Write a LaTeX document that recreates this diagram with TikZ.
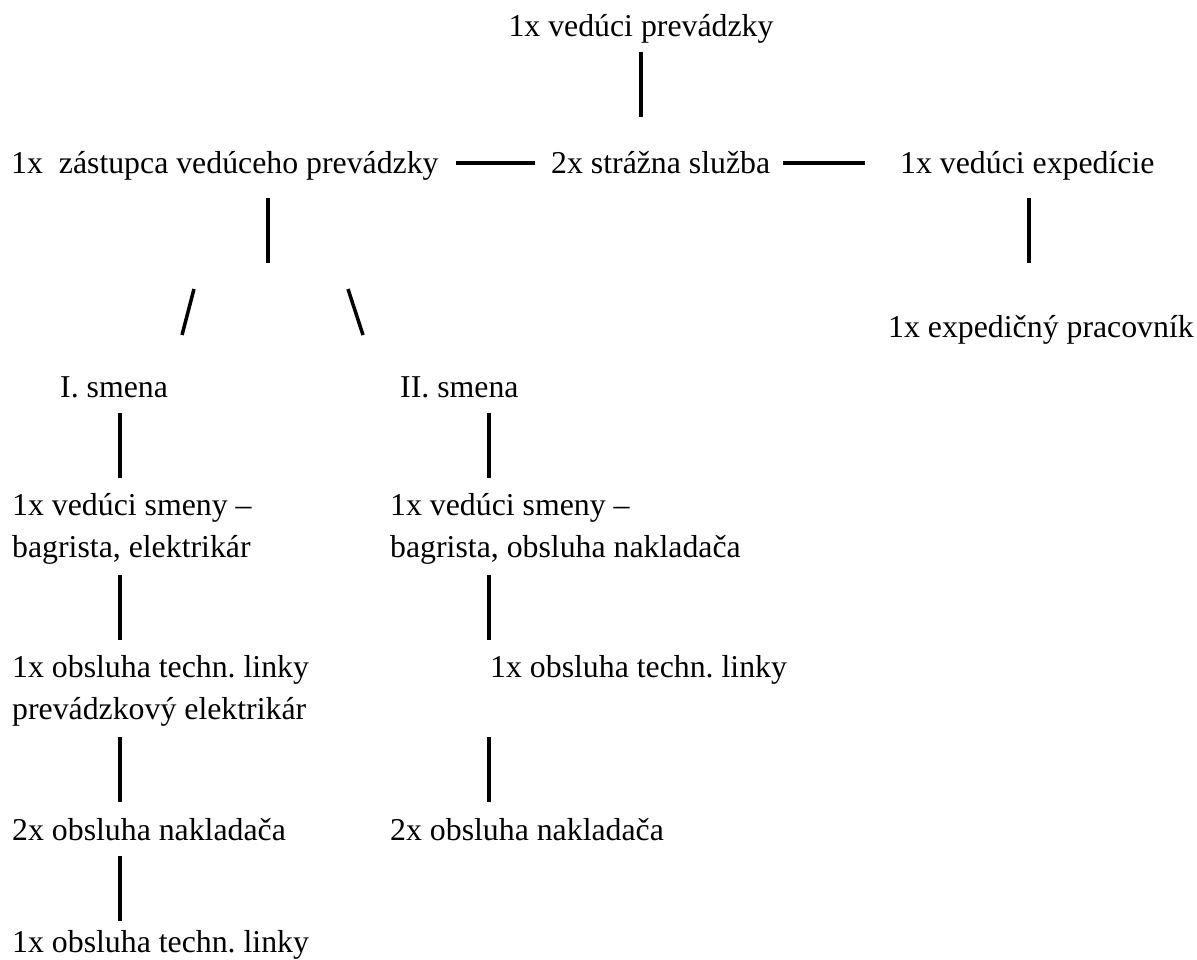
\documentclass[tikz,border=0pt]{standalone}
\usepackage{fontspec}
\setmainfont{Liberation Serif}
\frenchspacing
\begin{document}
\begin{tikzpicture}[x=1pt,y=-1pt,
  lbl/.style={inner sep=0pt,anchor=base west,font=\fontsize{31.8}{42}\selectfont},
  conn/.style={line width=4.5pt,line cap=butt}]
\useasboundingbox (0,0) rectangle (1197,959);
% texts
\node[lbl,anchor=base] (vp) at (641,36) {1x vedúci prevádzky};
\node[lbl] (zvp) at (11,173) {1x~ zástupca vedúceho prevádzky};
\node[lbl] (ss) at (551,173) {2x strážna služba};
\node[lbl] (ve) at (900,173) {1x vedúci expedície};
\node[lbl] (ep) at (888,337) {1x expedičný pracovník};
\node[lbl] (s1) at (60,397) {I. smena};
\node[lbl] (s2) at (400,397) {II. smena};
\node[lbl] (vs1a) at (12,515) {1x vedúci smeny –};
\node[lbl] (vs1b) at (12,557) {bagrista, elektrikár};
\node[lbl] (vs2a) at (390,515) {1x vedúci smeny –};
\node[lbl] (vs2b) at (390,557) {bagrista, obsluha nakladača};
\node[lbl] (ol1a) at (12,677) {1x obsluha techn. linky};
\node[lbl] (ol1b) at (12,719) {prevádzkový elektrikár};
\node[lbl] (ol2) at (490,677) {1x obsluha techn. linky};
\node[lbl] (on1) at (12,840) {2x obsluha nakladača};
\node[lbl] (on2) at (390,840) {2x obsluha nakladača};
\node[lbl] (ol3) at (12,952) {1x obsluha techn. linky};
% connector ends
\coordinate (a1) at (641,52);  \coordinate (a2) at (641,117);
\coordinate (b1) at (456,163); \coordinate (b2) at (535,163);
\coordinate (c1) at (783,163); \coordinate (c2) at (865,163);
\coordinate (d1) at (268,198); \coordinate (d2) at (268,263);
\coordinate (e1) at (1029,198); \coordinate (e2) at (1029,263);
\coordinate (f1) at (194,289); \coordinate (f2) at (182,335);
\coordinate (g1) at (348,289); \coordinate (g2) at (363,335);
\coordinate (h1) at (120,413); \coordinate (h2) at (120,478);
\coordinate (i1) at (489,413); \coordinate (i2) at (489,478);
\coordinate (j1) at (120,575); \coordinate (j2) at (120,640);
\coordinate (k1) at (489,575); \coordinate (k2) at (489,640);
\coordinate (l1) at (120,737); \coordinate (l2) at (120,802);
\coordinate (m1) at (489,737); \coordinate (m2) at (489,802);
\coordinate (n1) at (120,856); \coordinate (n2) at (120,921);
% connectors
\draw[conn] (a1) -- (a2);
\draw[conn] (b1) -- (b2);
\draw[conn] (c1) -- (c2);
\draw[conn] (d1) -- (d2);
\draw[conn] (e1) -- (e2);
\draw[conn,line width=3.5pt] (f1) -- (f2);
\draw[conn,line width=3.5pt] (g1) -- (g2);
\draw[conn] (h1) -- (h2);
\draw[conn] (i1) -- (i2);
\draw[conn] (j1) -- (j2);
\draw[conn] (k1) -- (k2);
\draw[conn] (l1) -- (l2);
\draw[conn] (m1) -- (m2);
\draw[conn] (n1) -- (n2);
\end{tikzpicture}
\end{document}
